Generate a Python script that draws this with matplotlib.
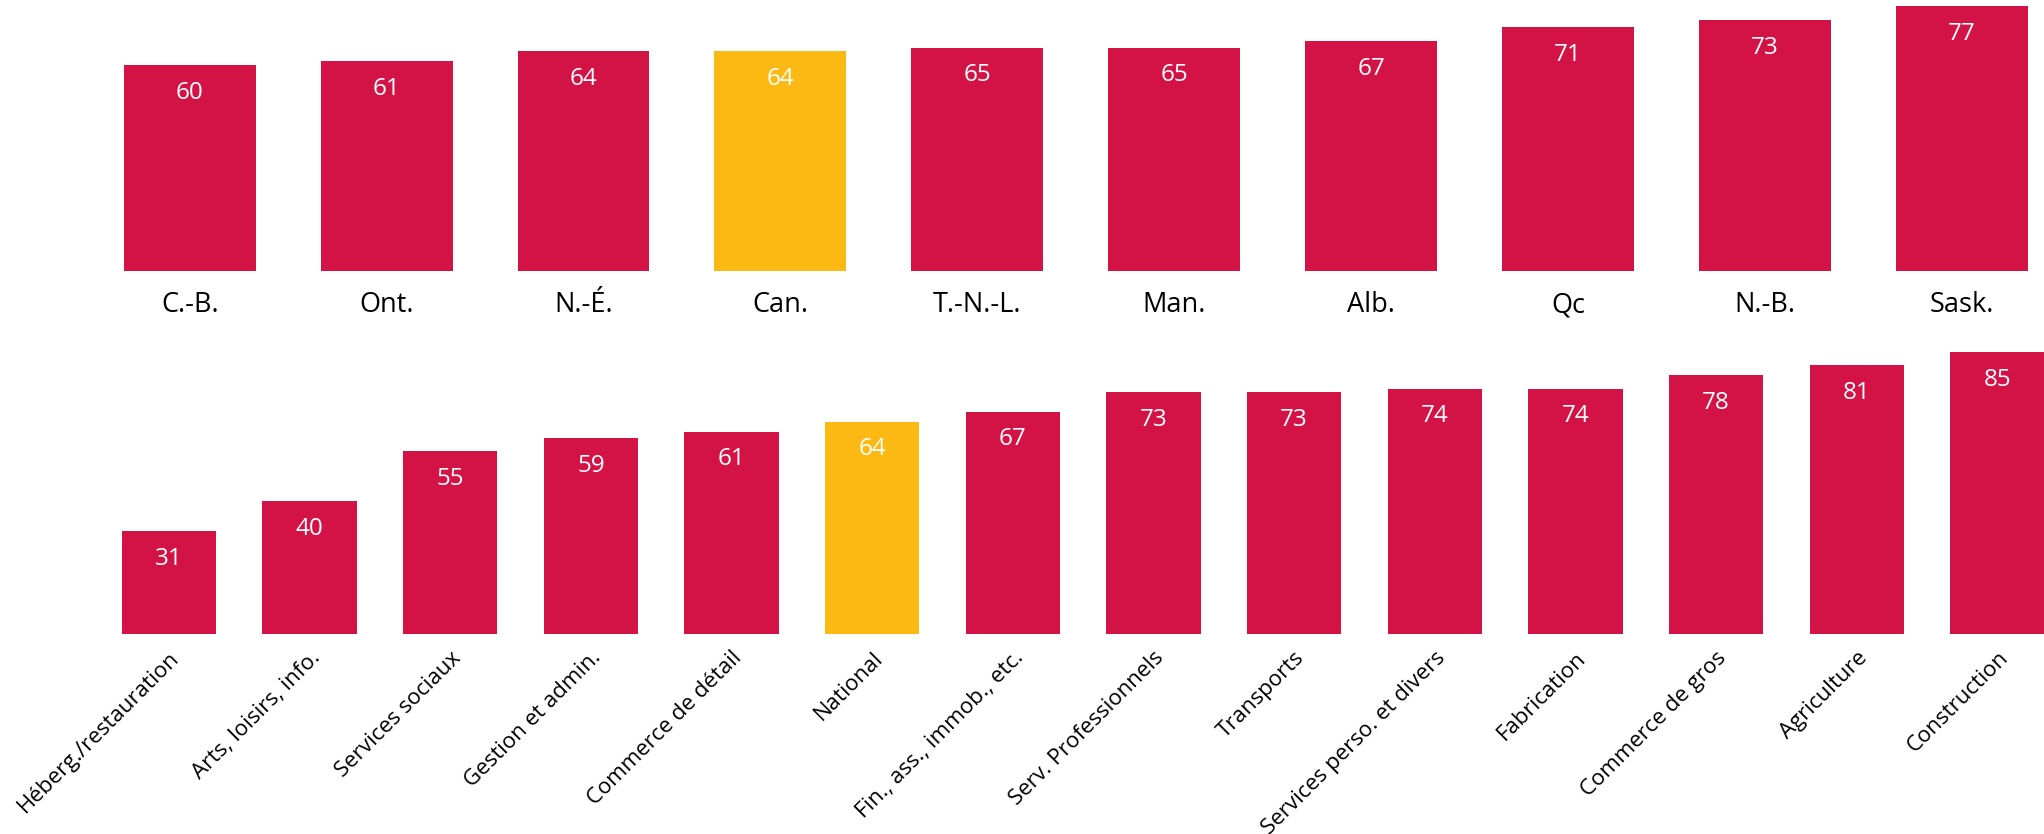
import matplotlib
matplotlib.use("Agg")
import matplotlib.pyplot as plt
import numpy as np

plt.rcParams['font.family'] = ['Open Sans', 'DejaVu Sans']

# provinces (top panel)
prov_labels = ["C.-B.", "Ont.", "N.-É.", "Can.", "T.-N.-L.", "Man.", "Alb.", "Qc", "N.-B.", "Sask."]
prov_values = [60, 61, 64, 64, 65, 65, 67, 71, 73, 77]

# industries (bottom panel)
ind_labels = ["Héberg./restauration", "Arts, loisirs, info.", "Services sociaux",
              "Gestion et admin.", "Commerce de détail", "National",
              "Fin., ass., immob., etc.", "Serv. Professionnels", "Transports",
              "Services perso. et divers", "Fabrication", "Commerce de gros",
              "Agriculture", "Construction"]
ind_values = [31, 40, 55, 59, 61, 64, 67, 73, 73, 74, 74, 78, 81, 85]

RED = "#D31245"
YELLOW = "#FDB913"


def colors_for(labels, highlight):
    return [YELLOW if l == highlight else RED for l in labels]


def style(ax):
    for s in ax.spines.values():
        s.set_visible(False)
    ax.set_yticks([])
    ax.tick_params(axis="x", length=0)


W, H = 2044, 834
fig = plt.figure(figsize=(W / 100, H / 100), dpi=100)

# top panel
ax1 = fig.add_axes([0, 0.675, 1, 0.3255])
x1 = np.arange(len(prov_values))
ax1.bar(x1, prov_values, width=0.67, color=colors_for(prov_labels, "Can."))
ax1.set_xlim(-0.9635, 9.417)
ax1.set_ylim(0, 79)
ax1.set_xticks(x1)
ax1.set_xticklabels(prov_labels, fontsize=19.5)
ax1.tick_params(axis="x", pad=14.5)
for i, v in enumerate(prov_values):
    ax1.annotate(str(v), (i, v), xytext=(0, -20), textcoords="offset points",
                 ha="center", va="center", color="white", fontsize=17.5)
style(ax1)

# bottom panel
ax2 = fig.add_axes([0, 0.2404, 1, 0.3493])
x2 = np.arange(len(ind_values))
ax2.bar(x2, ind_values, width=0.67, color=colors_for(ind_labels, "National"))
ax2.set_xlim(-1.2, 13.33)
ax2.set_ylim(0, 88)
ax2.set_xticks(x2)
ax2.set_xticklabels(ind_labels, fontsize=16, rotation=45, ha="right",
                    rotation_mode="anchor")
ax2.tick_params(axis="x", pad=10)
for i, v in enumerate(ind_values):
    ax2.annotate(str(v), (i, v), xytext=(0, -20), textcoords="offset points",
                 ha="center", va="center", color="white", fontsize=17.5)
style(ax2)

fig.savefig("out.png", dpi=100, facecolor="white")
